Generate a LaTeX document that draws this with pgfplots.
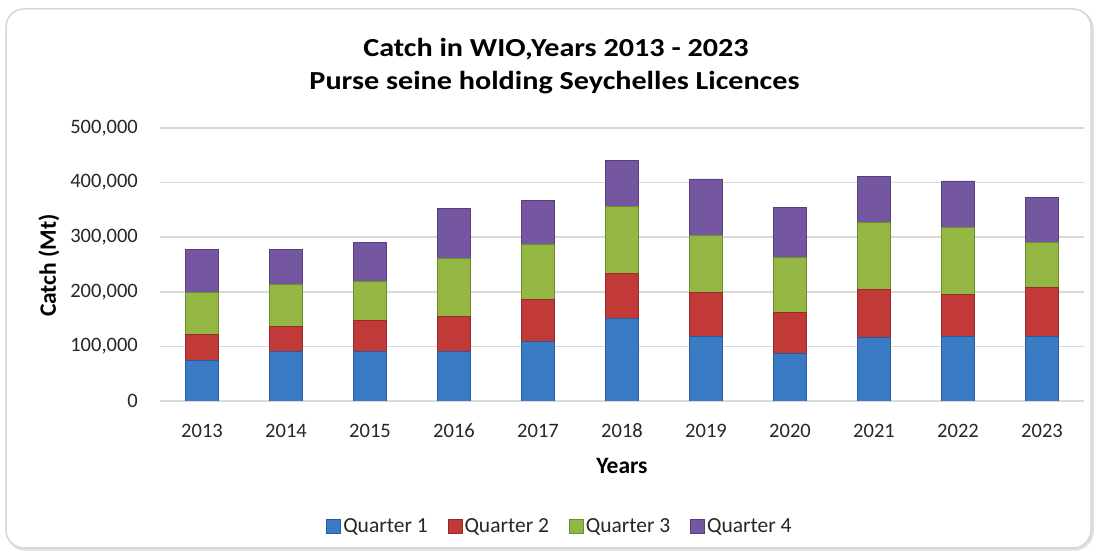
\documentclass[border=0pt]{standalone}
\usepackage{pgfplots}
\pgfplotsset{compat=1.18}
\usepackage{fontspec}
\setmainfont{Carlito}
\definecolor{q1e}{HTML}{2C5A96}
\definecolor{q1m}{HTML}{3B7BC6}
\definecolor{q2e}{HTML}{962B2A}
\definecolor{q2m}{HTML}{C23A38}
\definecolor{q3e}{HTML}{6E8E36}
\definecolor{q3m}{HTML}{94B744}
\definecolor{q4e}{HTML}{54407A}
\definecolor{q4m}{HTML}{7556A0}
\definecolor{gridc}{HTML}{D9D9D9}
\definecolor{txt}{HTML}{262626}
\begin{document}
\begin{tikzpicture}
\path[use as bounding box] (0,0) rectangle (1097bp,552bp);
\fill[white] (0,0) rectangle (1097bp,552bp);
\draw[line width=2.5bp, draw=black!12, rounded corners=18bp] (7.5bp,2.5bp) rectangle (1092.5bp,541bp);
\draw[line width=1.5bp, draw=black!16, fill=white, rounded corners=18bp] (6bp,4bp) rectangle (1091bp,543bp);
\node[font=\bfseries\fontsize{26bp}{30bp}\selectfont, anchor=base, text=black] at (556bp,495bp) {\scalebox{1.16}[1]{Catch in WIO,Years 2013 - 2023}};
\node[font=\bfseries\fontsize{26bp}{30bp}\selectfont, anchor=base, text=black] at (554.5bp,462bp) {\scalebox{1.16}[1]{Purse seine holding Seychelles Licences}};
\begin{axis}[
  at={(160bp,151bp)}, anchor=south west,
  scale only axis, width=924bp, height=273bp,
  xmin=-0.5, xmax=10.5, ymin=0, ymax=500000,
  ybar stacked, bar width=33bp,
  xtick={0,1,2,3,4,5,6,7,8,9,10},
  xticklabels={2013,2014,2015,2016,2017,2018,2019,2020,2021,2022,2023},
  ytick={0,100000,200000,300000,400000,500000},
  scaled y ticks=false,
  major tick length=0pt,
  axis line style={draw=none},
  ymajorgrids, grid style={draw=gridc, line width=1.6bp},
  tick label style={font=\fontsize{20.5bp}{24bp}\selectfont, text=txt, inner sep=0pt},
  yticklabel style={anchor=east, xshift=-22bp, /pgf/number format/.cd, fixed, 1000 sep={,}, assume math mode=true},
  xticklabel style={anchor=center, yshift=-30bp},
  xlabel={Years}, ylabel={Catch (Mt)},
  label style={font=\bfseries\fontsize{23.5bp}{27bp}\selectfont, text=black, inner sep=0pt},
  xlabel style={at={(axis description cs:0.5,-0.2363)}, anchor=center},
  ylabel style={at={(axis description cs:-0.1201,0.496)}, anchor=center, rotate=0},
  legend columns=4,
  legend style={at={(axis description cs:0.4329,-0.4579)}, anchor=center, draw=none, fill=none,
    font=\fontsize{21.5bp}{25bp}\selectfont, text=txt,
    nodes={inner sep=2bp},
    /tikz/every even column/.append style={column sep=18bp}},
  legend image code/.code={\draw[#1] (0bp,-7bp) rectangle (14bp,7bp);},
]
\addplot[draw=q1e, line width=0.8bp, fill=q1m] coordinates {
(0,74000) (1,91400) (2,91400) (3,91400) (4,108600) (5,151000) (6,117800) (7,87000) (8,116000) (9,117800) (10,117800)};
\addplot[draw=q2e, line width=0.8bp, fill=q2m] coordinates {
(0,48700) (1,44600) (2,56600) (3,63600) (4,77400) (5,82700) (6,81000) (7,76000) (8,88000) (9,76700) (10,90800)};
\addplot[draw=q3e, line width=0.8bp, fill=q3m] coordinates {
(0,75300) (1,78000) (2,71600) (3,105700) (4,101700) (5,122700) (6,104900) (7,99600) (8,123600) (9,123300) (10,81400)};
\addplot[draw=q4e, line width=0.8bp, fill=q4m] coordinates {
(0,80000) (1,64000) (2,70000) (3,92000) (4,80300) (5,83600) (6,103000) (7,91400) (8,84400) (9,85200) (10,83000)};
\legend{Quarter 1,Quarter 2,Quarter 3,Quarter 4}
\end{axis}
\end{tikzpicture}
\end{document}
